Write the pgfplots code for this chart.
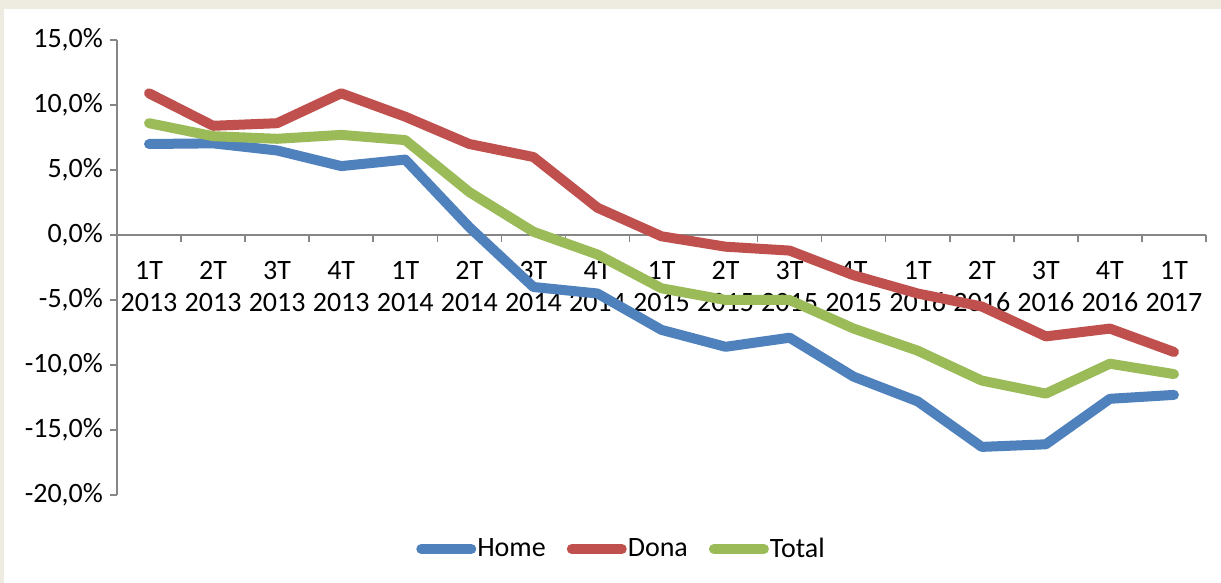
\documentclass[border=0pt]{standalone}
\usepackage{fontspec}
\setmainfont{Carlito}
\usepackage{pgfplots}
\pgfplotsset{compat=1.18}
\definecolor{chome}{HTML}{4F81BD}
\definecolor{cdona}{HTML}{C0504D}
\definecolor{ctotal}{HTML}{9BBB59}
\definecolor{caxis}{HTML}{868686}
\definecolor{cframe}{HTML}{EEECE1}

\begin{document}
\begin{tikzpicture}
\fill[cframe] (0,0) rectangle (610.5pt,291.5pt);
\fill[white] (2pt,0) rectangle (610.5pt,287pt);
\useasboundingbox (0,0) rectangle (610.5pt,291.5pt);
\begin{axis}[
  at={(58.5pt,44pt)}, anchor=south west,
  width=544.5pt, height=227.5pt, scale only axis,
  font=\fontsize{14}{16}\selectfont,
  xmin=-0.5, xmax=16.5, ymin=-20, ymax=15,
  axis x line=middle, axis y line=left,
  axis line style={-,caxis,line width=0.75pt},
  every tick/.style={caxis,line width=0.75pt},
  tick align=outside,
  major tick length=3.5pt,
  ytick={-20,-15,-10,-5,0,5,10,15},
  yticklabels={{-20,0\%},{-15,0\%},{-10,0\%},{-5,0\%},{0,0\%},{5,0\%},{10,0\%},{15,0\%}},
  xtick={0,...,16},
  x tick style={draw=none},
  xticklabels={{1T\\2013},{2T\\2013},{3T\\2013},{4T\\2013},
               {1T\\2014},{2T\\2014},{3T\\2014},{4T\\2014},
               {1T\\2015},{2T\\2015},{3T\\2015},{4T\\2015},
               {1T\\2016},{2T\\2016},{3T\\2016},{4T\\2016},
               {1T\\2017}},
  xticklabel style={align=center,yshift=-6pt},
  extra x ticks={-0.5,0.5,...,16.5},
  extra x tick labels={},
  extra x tick style={x tick style={draw=caxis,line width=0.75pt}},
  clip=false,
  legend columns=3,
  legend style={draw=none,fill=none,at={(252pt,-27pt)},anchor=center,
    font=\fontsize{14}{16}\selectfont,
    nodes={inner xsep=0.5pt},
    /tikz/every even column/.append style={column sep=10pt}},
  legend cell align=left,
  legend image code/.code={\draw[#1,line cap=round] (2.5pt,0pt) -- (27.5pt,0pt);},
  every axis plot/.append style={line width=5pt,line join=round,line cap=round},
]
\addplot[chome] coordinates {
 (0,7.0) (1,7.05) (2,6.5) (3,5.3) (4,5.8) (5,0.6) (6,-4.0) (7,-4.5)
 (8,-7.3) (9,-8.6) (10,-7.9) (11,-10.9) (12,-12.8) (13,-16.3) (14,-16.1)
 (15,-12.6) (16,-12.3)};
\addplot[cdona] coordinates {
 (0,10.9) (1,8.4) (2,8.6) (3,10.9) (4,9.1) (5,7.0) (6,6.0) (7,2.1)
 (8,-0.1) (9,-0.9) (10,-1.2) (11,-3.1) (12,-4.5) (13,-5.5) (14,-7.8)
 (15,-7.2) (16,-9.0)};
\addplot[ctotal] coordinates {
 (0,8.6) (1,7.6) (2,7.4) (3,7.7) (4,7.3) (5,3.3) (6,0.25) (7,-1.5)
 (8,-4.1) (9,-5.0) (10,-5.0) (11,-7.2) (12,-8.9) (13,-11.2) (14,-12.2)
 (15,-9.9) (16,-10.7)};
\legend{Home,Dona,Total}
\end{axis}
\end{tikzpicture}
\end{document}
